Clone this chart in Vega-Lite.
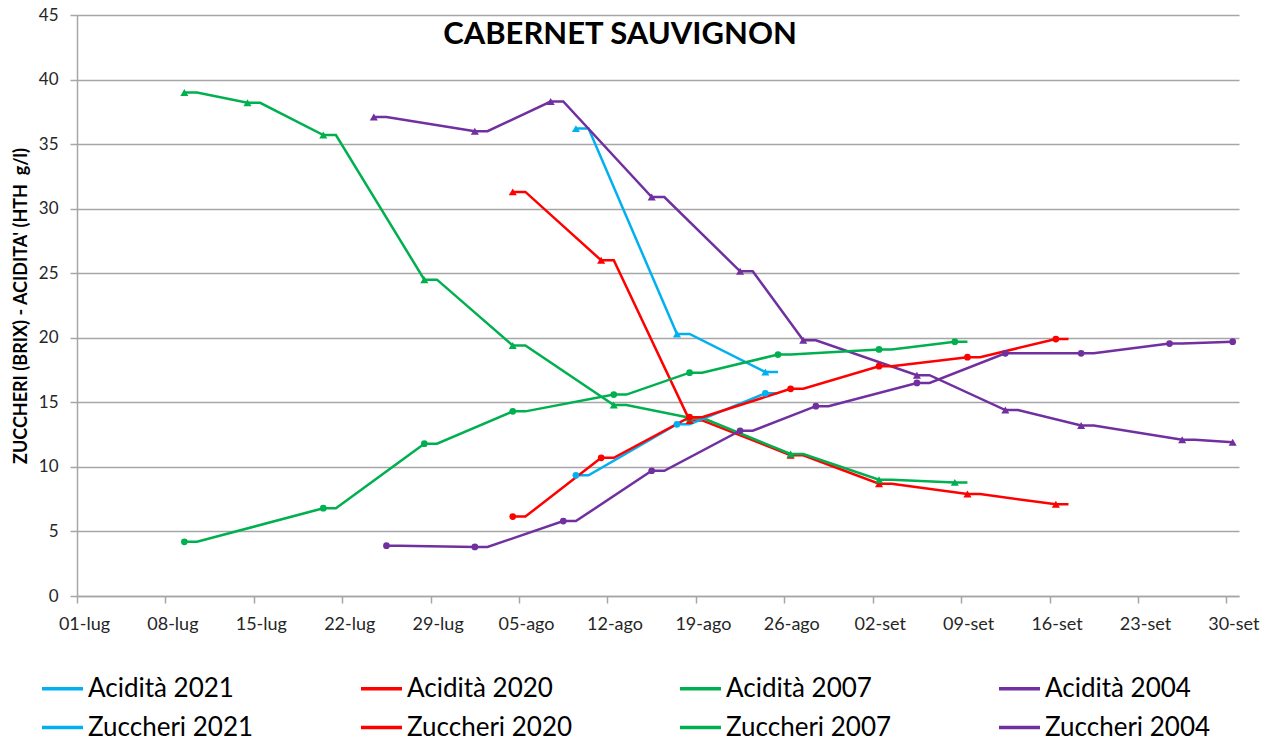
{
  "$schema": "https://vega.github.io/schema/vega-lite/v6.json",
  "width": 1162,
  "height": 581,
  "autosize": {"type": "none"},
  "padding": {"left": 77, "top": 15, "right": 38, "bottom": 147},
  "background": "white",
  "config": {"view": {"stroke": null}, "font": "Lato"},
  "title": {"text": "CABERNET SAUVIGNON", "font": "Lato", "fontSize": 31, "fontWeight": "bold", "color": "#000000", "anchor": "middle", "frame": "group", "dx": -38, "baseline": "alphabetic", "offset": -69},
  "data": {"values": [
    {"serie": "Acidità 2021", "grandezza": "Acidità", "data": "2021-08-09", "valore": 36.2, "punto": 1},
    {"serie": "Acidità 2021", "grandezza": "Acidità", "data": "2021-08-10", "valore": 36.2, "punto": 0},
    {"serie": "Acidità 2021", "grandezza": "Acidità", "data": "2021-08-17", "valore": 20.3, "punto": 1},
    {"serie": "Acidità 2021", "grandezza": "Acidità", "data": "2021-08-18", "valore": 20.3, "punto": 0},
    {"serie": "Acidità 2021", "grandezza": "Acidità", "data": "2021-08-24", "valore": 17.35, "punto": 1},
    {"serie": "Acidità 2021", "grandezza": "Acidità", "data": "2021-08-25", "valore": 17.35, "punto": 0},

    {"serie": "Acidità 2020", "grandezza": "Acidità", "data": "2021-08-04", "valore": 31.3, "punto": 1},
    {"serie": "Acidità 2020", "grandezza": "Acidità", "data": "2021-08-05", "valore": 31.3, "punto": 0},
    {"serie": "Acidità 2020", "grandezza": "Acidità", "data": "2021-08-11", "valore": 26.0, "punto": 1},
    {"serie": "Acidità 2020", "grandezza": "Acidità", "data": "2021-08-12", "valore": 26.0, "punto": 0},
    {"serie": "Acidità 2020", "grandezza": "Acidità", "data": "2021-08-18", "valore": 13.6, "punto": 1},
    {"serie": "Acidità 2020", "grandezza": "Acidità", "data": "2021-08-19", "valore": 13.6, "punto": 0},
    {"serie": "Acidità 2020", "grandezza": "Acidità", "data": "2021-08-26", "valore": 10.9, "punto": 1},
    {"serie": "Acidità 2020", "grandezza": "Acidità", "data": "2021-08-27", "valore": 10.9, "punto": 0},
    {"serie": "Acidità 2020", "grandezza": "Acidità", "data": "2021-09-02", "valore": 8.7, "punto": 1},
    {"serie": "Acidità 2020", "grandezza": "Acidità", "data": "2021-09-03", "valore": 8.7, "punto": 0},
    {"serie": "Acidità 2020", "grandezza": "Acidità", "data": "2021-09-09", "valore": 7.9, "punto": 1},
    {"serie": "Acidità 2020", "grandezza": "Acidità", "data": "2021-09-10", "valore": 7.9, "punto": 0},
    {"serie": "Acidità 2020", "grandezza": "Acidità", "data": "2021-09-16", "valore": 7.1, "punto": 1},
    {"serie": "Acidità 2020", "grandezza": "Acidità", "data": "2021-09-17", "valore": 7.1, "punto": 0},

    {"serie": "Acidità 2007", "grandezza": "Acidità", "data": "2021-07-09", "valore": 39.0, "punto": 1},
    {"serie": "Acidità 2007", "grandezza": "Acidità", "data": "2021-07-10", "valore": 39.0, "punto": 0},
    {"serie": "Acidità 2007", "grandezza": "Acidità", "data": "2021-07-14", "valore": 38.2, "punto": 1},
    {"serie": "Acidità 2007", "grandezza": "Acidità", "data": "2021-07-15", "valore": 38.2, "punto": 0},
    {"serie": "Acidità 2007", "grandezza": "Acidità", "data": "2021-07-20", "valore": 35.7, "punto": 1},
    {"serie": "Acidità 2007", "grandezza": "Acidità", "data": "2021-07-21", "valore": 35.7, "punto": 0},
    {"serie": "Acidità 2007", "grandezza": "Acidità", "data": "2021-07-28", "valore": 24.5, "punto": 1},
    {"serie": "Acidità 2007", "grandezza": "Acidità", "data": "2021-07-29", "valore": 24.5, "punto": 0},
    {"serie": "Acidità 2007", "grandezza": "Acidità", "data": "2021-08-04", "valore": 19.4, "punto": 1},
    {"serie": "Acidità 2007", "grandezza": "Acidità", "data": "2021-08-05", "valore": 19.4, "punto": 0},
    {"serie": "Acidità 2007", "grandezza": "Acidità", "data": "2021-08-12", "valore": 14.8, "punto": 1},
    {"serie": "Acidità 2007", "grandezza": "Acidità", "data": "2021-08-13", "valore": 14.8, "punto": 0},
    {"serie": "Acidità 2007", "grandezza": "Acidità", "data": "2021-08-18", "valore": 13.8, "punto": 1},
    {"serie": "Acidità 2007", "grandezza": "Acidità", "data": "2021-08-19", "valore": 13.8, "punto": 0},
    {"serie": "Acidità 2007", "grandezza": "Acidità", "data": "2021-08-26", "valore": 11.0, "punto": 1},
    {"serie": "Acidità 2007", "grandezza": "Acidità", "data": "2021-08-27", "valore": 11.0, "punto": 0},
    {"serie": "Acidità 2007", "grandezza": "Acidità", "data": "2021-09-02", "valore": 9.0, "punto": 1},
    {"serie": "Acidità 2007", "grandezza": "Acidità", "data": "2021-09-03", "valore": 9.0, "punto": 0},
    {"serie": "Acidità 2007", "grandezza": "Acidità", "data": "2021-09-08", "valore": 8.8, "punto": 1},
    {"serie": "Acidità 2007", "grandezza": "Acidità", "data": "2021-09-09", "valore": 8.8, "punto": 0},

    {"serie": "Acidità 2004", "grandezza": "Acidità", "data": "2021-07-24", "valore": 37.1, "punto": 1},
    {"serie": "Acidità 2004", "grandezza": "Acidità", "data": "2021-07-25", "valore": 37.1, "punto": 0},
    {"serie": "Acidità 2004", "grandezza": "Acidità", "data": "2021-08-01", "valore": 36.0, "punto": 1},
    {"serie": "Acidità 2004", "grandezza": "Acidità", "data": "2021-08-02", "valore": 36.0, "punto": 0},
    {"serie": "Acidità 2004", "grandezza": "Acidità", "data": "2021-08-07", "valore": 38.3, "punto": 1},
    {"serie": "Acidità 2004", "grandezza": "Acidità", "data": "2021-08-08", "valore": 38.3, "punto": 0},
    {"serie": "Acidità 2004", "grandezza": "Acidità", "data": "2021-08-15", "valore": 30.9, "punto": 1},
    {"serie": "Acidità 2004", "grandezza": "Acidità", "data": "2021-08-16", "valore": 30.9, "punto": 0},
    {"serie": "Acidità 2004", "grandezza": "Acidità", "data": "2021-08-22", "valore": 25.15, "punto": 1},
    {"serie": "Acidità 2004", "grandezza": "Acidità", "data": "2021-08-23", "valore": 25.15, "punto": 0},
    {"serie": "Acidità 2004", "grandezza": "Acidità", "data": "2021-08-27", "valore": 19.8, "punto": 1},
    {"serie": "Acidità 2004", "grandezza": "Acidità", "data": "2021-08-28", "valore": 19.8, "punto": 0},
    {"serie": "Acidità 2004", "grandezza": "Acidità", "data": "2021-09-05", "valore": 17.1, "punto": 1},
    {"serie": "Acidità 2004", "grandezza": "Acidità", "data": "2021-09-06", "valore": 17.1, "punto": 0},
    {"serie": "Acidità 2004", "grandezza": "Acidità", "data": "2021-09-12", "valore": 14.4, "punto": 1},
    {"serie": "Acidità 2004", "grandezza": "Acidità", "data": "2021-09-13", "valore": 14.4, "punto": 0},
    {"serie": "Acidità 2004", "grandezza": "Acidità", "data": "2021-09-18", "valore": 13.2, "punto": 1},
    {"serie": "Acidità 2004", "grandezza": "Acidità", "data": "2021-09-19", "valore": 13.2, "punto": 0},
    {"serie": "Acidità 2004", "grandezza": "Acidità", "data": "2021-09-26", "valore": 12.1, "punto": 1},
    {"serie": "Acidità 2004", "grandezza": "Acidità", "data": "2021-09-27", "valore": 12.1, "punto": 0},
    {"serie": "Acidità 2004", "grandezza": "Acidità", "data": "2021-09-30", "valore": 11.9, "punto": 1},

    {"serie": "Zuccheri 2021", "grandezza": "Zuccheri", "data": "2021-08-09", "valore": 9.35, "punto": 1},
    {"serie": "Zuccheri 2021", "grandezza": "Zuccheri", "data": "2021-08-10", "valore": 9.35, "punto": 0},
    {"serie": "Zuccheri 2021", "grandezza": "Zuccheri", "data": "2021-08-17", "valore": 13.3, "punto": 1},
    {"serie": "Zuccheri 2021", "grandezza": "Zuccheri", "data": "2021-08-18", "valore": 13.3, "punto": 0},
    {"serie": "Zuccheri 2021", "grandezza": "Zuccheri", "data": "2021-08-24", "valore": 15.7, "punto": 1},
    {"serie": "Zuccheri 2021", "grandezza": "Zuccheri", "data": "2021-08-25", "valore": 15.7, "punto": 0},

    {"serie": "Zuccheri 2020", "grandezza": "Zuccheri", "data": "2021-08-04", "valore": 6.15, "punto": 1},
    {"serie": "Zuccheri 2020", "grandezza": "Zuccheri", "data": "2021-08-05", "valore": 6.15, "punto": 0},
    {"serie": "Zuccheri 2020", "grandezza": "Zuccheri", "data": "2021-08-11", "valore": 10.7, "punto": 1},
    {"serie": "Zuccheri 2020", "grandezza": "Zuccheri", "data": "2021-08-12", "valore": 10.7, "punto": 0},
    {"serie": "Zuccheri 2020", "grandezza": "Zuccheri", "data": "2021-08-18", "valore": 13.85, "punto": 1},
    {"serie": "Zuccheri 2020", "grandezza": "Zuccheri", "data": "2021-08-19", "valore": 13.85, "punto": 0},
    {"serie": "Zuccheri 2020", "grandezza": "Zuccheri", "data": "2021-08-26", "valore": 16.05, "punto": 1},
    {"serie": "Zuccheri 2020", "grandezza": "Zuccheri", "data": "2021-08-27", "valore": 16.05, "punto": 0},
    {"serie": "Zuccheri 2020", "grandezza": "Zuccheri", "data": "2021-09-02", "valore": 17.8, "punto": 1},
    {"serie": "Zuccheri 2020", "grandezza": "Zuccheri", "data": "2021-09-03", "valore": 17.8, "punto": 0},
    {"serie": "Zuccheri 2020", "grandezza": "Zuccheri", "data": "2021-09-09", "valore": 18.5, "punto": 1},
    {"serie": "Zuccheri 2020", "grandezza": "Zuccheri", "data": "2021-09-10", "valore": 18.5, "punto": 0},
    {"serie": "Zuccheri 2020", "grandezza": "Zuccheri", "data": "2021-09-16", "valore": 19.9, "punto": 1},
    {"serie": "Zuccheri 2020", "grandezza": "Zuccheri", "data": "2021-09-17", "valore": 19.9, "punto": 0},

    {"serie": "Zuccheri 2007", "grandezza": "Zuccheri", "data": "2021-07-09", "valore": 4.2, "punto": 1},
    {"serie": "Zuccheri 2007", "grandezza": "Zuccheri", "data": "2021-07-10", "valore": 4.2, "punto": 0},
    {"serie": "Zuccheri 2007", "grandezza": "Zuccheri", "data": "2021-07-20", "valore": 6.8, "punto": 1},
    {"serie": "Zuccheri 2007", "grandezza": "Zuccheri", "data": "2021-07-21", "valore": 6.8, "punto": 0},
    {"serie": "Zuccheri 2007", "grandezza": "Zuccheri", "data": "2021-07-28", "valore": 11.8, "punto": 1},
    {"serie": "Zuccheri 2007", "grandezza": "Zuccheri", "data": "2021-07-29", "valore": 11.8, "punto": 0},
    {"serie": "Zuccheri 2007", "grandezza": "Zuccheri", "data": "2021-08-04", "valore": 14.3, "punto": 1},
    {"serie": "Zuccheri 2007", "grandezza": "Zuccheri", "data": "2021-08-05", "valore": 14.3, "punto": 0},
    {"serie": "Zuccheri 2007", "grandezza": "Zuccheri", "data": "2021-08-12", "valore": 15.6, "punto": 1},
    {"serie": "Zuccheri 2007", "grandezza": "Zuccheri", "data": "2021-08-13", "valore": 15.6, "punto": 0},
    {"serie": "Zuccheri 2007", "grandezza": "Zuccheri", "data": "2021-08-18", "valore": 17.3, "punto": 1},
    {"serie": "Zuccheri 2007", "grandezza": "Zuccheri", "data": "2021-08-19", "valore": 17.3, "punto": 0},
    {"serie": "Zuccheri 2007", "grandezza": "Zuccheri", "data": "2021-08-25", "valore": 18.7, "punto": 1},
    {"serie": "Zuccheri 2007", "grandezza": "Zuccheri", "data": "2021-08-26", "valore": 18.7, "punto": 0},
    {"serie": "Zuccheri 2007", "grandezza": "Zuccheri", "data": "2021-09-02", "valore": 19.1, "punto": 1},
    {"serie": "Zuccheri 2007", "grandezza": "Zuccheri", "data": "2021-09-03", "valore": 19.1, "punto": 0},
    {"serie": "Zuccheri 2007", "grandezza": "Zuccheri", "data": "2021-09-08", "valore": 19.7, "punto": 1},
    {"serie": "Zuccheri 2007", "grandezza": "Zuccheri", "data": "2021-09-09", "valore": 19.7, "punto": 0},

    {"serie": "Zuccheri 2004", "grandezza": "Zuccheri", "data": "2021-07-25", "valore": 3.9, "punto": 1},
    {"serie": "Zuccheri 2004", "grandezza": "Zuccheri", "data": "2021-07-26", "valore": 3.9, "punto": 0},
    {"serie": "Zuccheri 2004", "grandezza": "Zuccheri", "data": "2021-08-01", "valore": 3.8, "punto": 1},
    {"serie": "Zuccheri 2004", "grandezza": "Zuccheri", "data": "2021-08-02", "valore": 3.8, "punto": 0},
    {"serie": "Zuccheri 2004", "grandezza": "Zuccheri", "data": "2021-08-08", "valore": 5.8, "punto": 1},
    {"serie": "Zuccheri 2004", "grandezza": "Zuccheri", "data": "2021-08-09", "valore": 5.8, "punto": 0},
    {"serie": "Zuccheri 2004", "grandezza": "Zuccheri", "data": "2021-08-15", "valore": 9.7, "punto": 1},
    {"serie": "Zuccheri 2004", "grandezza": "Zuccheri", "data": "2021-08-16", "valore": 9.7, "punto": 0},
    {"serie": "Zuccheri 2004", "grandezza": "Zuccheri", "data": "2021-08-22", "valore": 12.8, "punto": 1},
    {"serie": "Zuccheri 2004", "grandezza": "Zuccheri", "data": "2021-08-23", "valore": 12.8, "punto": 0},
    {"serie": "Zuccheri 2004", "grandezza": "Zuccheri", "data": "2021-08-28", "valore": 14.7, "punto": 1},
    {"serie": "Zuccheri 2004", "grandezza": "Zuccheri", "data": "2021-08-29", "valore": 14.7, "punto": 0},
    {"serie": "Zuccheri 2004", "grandezza": "Zuccheri", "data": "2021-09-05", "valore": 16.5, "punto": 1},
    {"serie": "Zuccheri 2004", "grandezza": "Zuccheri", "data": "2021-09-06", "valore": 16.5, "punto": 0},
    {"serie": "Zuccheri 2004", "grandezza": "Zuccheri", "data": "2021-09-12", "valore": 18.8, "punto": 1},
    {"serie": "Zuccheri 2004", "grandezza": "Zuccheri", "data": "2021-09-13", "valore": 18.8, "punto": 0},
    {"serie": "Zuccheri 2004", "grandezza": "Zuccheri", "data": "2021-09-18", "valore": 18.8, "punto": 1},
    {"serie": "Zuccheri 2004", "grandezza": "Zuccheri", "data": "2021-09-19", "valore": 18.8, "punto": 0},
    {"serie": "Zuccheri 2004", "grandezza": "Zuccheri", "data": "2021-09-25", "valore": 19.55, "punto": 1},
    {"serie": "Zuccheri 2004", "grandezza": "Zuccheri", "data": "2021-09-26", "valore": 19.55, "punto": 0},
    {"serie": "Zuccheri 2004", "grandezza": "Zuccheri", "data": "2021-09-30", "valore": 19.7, "punto": 1}
  ]},
  "encoding": {
    "x": {
      "field": "data", "type": "temporal",
      "scale": {"type": "utc", "domain": [
        {"year": 2021, "month": 6, "date": 30, "hours": 12, "utc": true},
        {"year": 2021, "month": 9, "date": 30, "hours": 12, "utc": true}
      ]},
      "axis": {
        "title": null,
        "values": [
          {"year": 2021, "month": 6, "date": 30, "hours": 12, "utc": true},
          {"year": 2021, "month": 7, "date": 7, "hours": 12, "utc": true},
          {"year": 2021, "month": 7, "date": 14, "hours": 12, "utc": true},
          {"year": 2021, "month": 7, "date": 21, "hours": 12, "utc": true},
          {"year": 2021, "month": 7, "date": 28, "hours": 12, "utc": true},
          {"year": 2021, "month": 8, "date": 4, "hours": 12, "utc": true},
          {"year": 2021, "month": 8, "date": 11, "hours": 12, "utc": true},
          {"year": 2021, "month": 8, "date": 18, "hours": 12, "utc": true},
          {"year": 2021, "month": 8, "date": 25, "hours": 12, "utc": true},
          {"year": 2021, "month": 9, "date": 1, "hours": 12, "utc": true},
          {"year": 2021, "month": 9, "date": 8, "hours": 12, "utc": true},
          {"year": 2021, "month": 9, "date": 15, "hours": 12, "utc": true},
          {"year": 2021, "month": 9, "date": 22, "hours": 12, "utc": true},
          {"year": 2021, "month": 9, "date": 29, "hours": 12, "utc": true}
        ],
        "labelExpr": "utcFormat(time(datum.value) + 43200000, '%d') + '-' + ['gen','feb','mar','apr','mag','giu','lug','ago','set','ott','nov','dic'][utcmonth(time(datum.value) + 43200000)]",
        "labelOffset": 7,
        "labelFont": "Lato", "labelFontSize": 18, "labelColor": "#262626",
        "labelPadding": 12, "labelFlush": false, "labelOverlap": false,
        "grid": false,
        "domainColor": "#A6A6A6", "domainWidth": 1.5,
        "tickColor": "#A6A6A6", "tickWidth": 1.5, "tickSize": 7
      }
    },
    "y": {
      "field": "valore", "type": "quantitative",
      "scale": {"domain": [0, 45], "nice": false},
      "axis": {
        "title": "ZUCCHERI (BRIX) - ACIDITA' (HTH\u00a0\u00a0g/l)",
        "titleFont": "Lato", "titleFontSize": 18, "titleFontWeight": "bold", "titleColor": "#000000",
        "titlePadding": 8,
        "values": [0, 5, 10, 15, 20, 25, 30, 35, 40, 45],
        "labelFont": "Lato", "labelFontSize": 17, "labelColor": "#262626", "labelPadding": 12,
        "grid": true, "gridColor": "#A6A6A6", "gridWidth": 1.5,
        "domainColor": "#A6A6A6", "domainWidth": 1.5,
        "tickColor": "#A6A6A6", "tickWidth": 1.5, "tickSize": 7
      }
    },
    "color": {
      "field": "serie", "type": "nominal",
      "scale": {
        "domain": ["Acidità 2021", "Acidità 2020", "Acidità 2007", "Acidità 2004", "Zuccheri 2021", "Zuccheri 2020", "Zuccheri 2007", "Zuccheri 2004"],
        "range": ["#00B0F0", "#FF0000", "#00B050", "#7030A0", "#00B0F0", "#FF0000", "#00B050", "#7030A0"]
      },
      "legend": {
        "orient": "none", "legendX": -37, "legendY": 651,
        "direction": "horizontal", "columns": 4, "title": null,
        "symbolType": "stroke", "symbolSize": 1681, "symbolStrokeWidth": 3.5,
        "labelFont": "Lato", "labelFontSize": 26, "labelColor": "#000000",
        "labelOffset": 3, "columnPadding": 100, "rowPadding": 3,
        "gridAlign": "all", "labelLimit": 400
      }
    }
  },
  "layer": [
    {"mark": {"type": "line", "strokeWidth": 2.5, "clip": true}},
    {
      "transform": [{"filter": "datum.punto == 1"}],
      "mark": {"type": "point", "filled": true, "opacity": 1},
      "encoding": {
        "shape": {"field": "grandezza", "type": "nominal", "scale": {"domain": ["Acidità", "Zuccheri"], "range": ["triangle-up", "circle"]}, "legend": null},
        "size": {"field": "grandezza", "type": "nominal", "scale": {"domain": ["Acidità", "Zuccheri"], "range": [65, 45]}, "legend": null}
      }
    }
  ]
}
